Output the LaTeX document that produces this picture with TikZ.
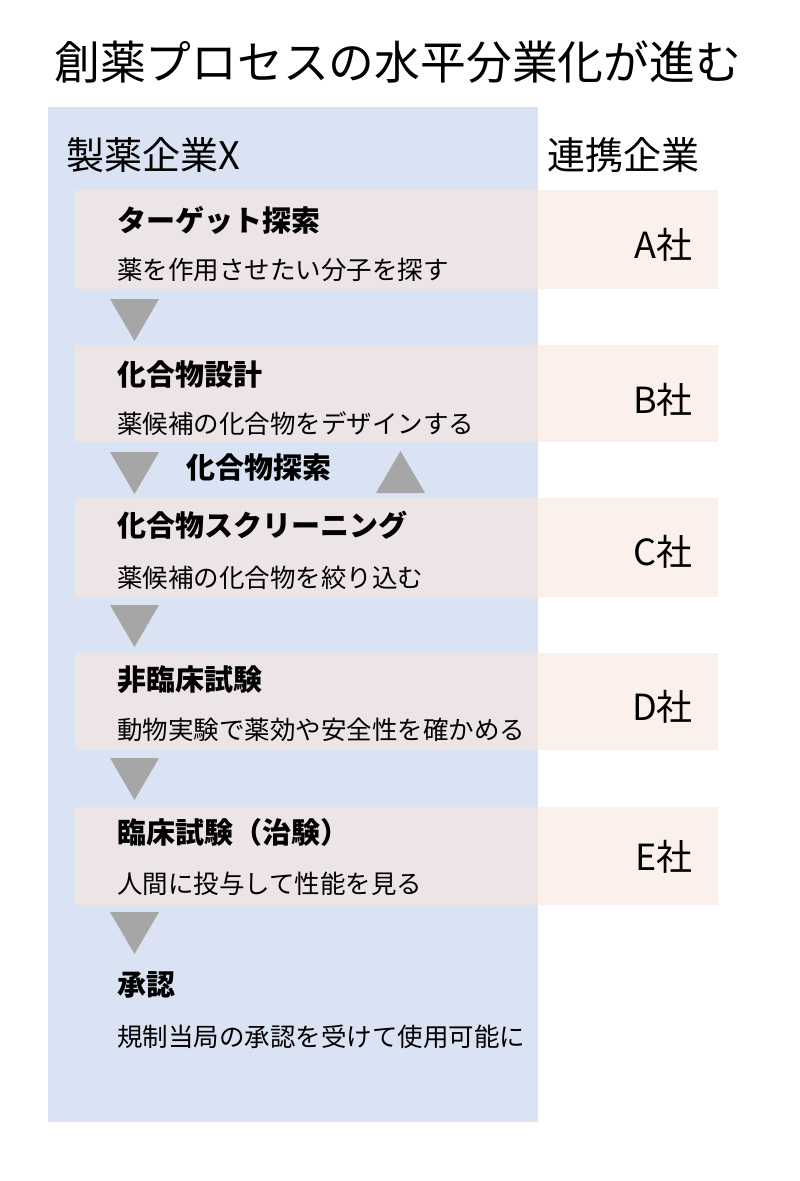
\documentclass[tikz,border=0pt]{standalone}
\usepackage{fontspec}
\setmainfont{Noto Sans CJK JP}
\usepackage{xcolor}
\usetikzlibrary{positioning}

\definecolor{panelblue}{HTML}{DAE3F3}
\definecolor{rowpink}{HTML}{EDE4E6}
\definecolor{rowpeach}{HTML}{FBF1EA}
\definecolor{trigray}{HTML}{A6A6A6}

\tikzset{
  stephead/.style={anchor=west, inner sep=0pt, font=\fontsize{29}{29}\selectfont\bfseries},
  stepnote/.style={anchor=west, inner sep=0pt, font=\fontsize{25.5}{25.5}\selectfont},
  partner/.style={anchor=east, inner sep=0pt, font=\fontsize{36}{36}\selectfont},
  colhead/.style={anchor=west, inner sep=0pt, font=\fontsize{38}{38}\selectfont},
}

\begin{document}
\begin{tikzpicture}[x=1pt, y=-1pt]
        \useasboundingbox (0,0) rectangle (800,1181);
        \fill[white] (0,0) rectangle (800,1181);

        % title
        \node[anchor=west, inner sep=0pt, font=\fontsize{45.8}{45.8}\selectfont] (title) at (54,62) {創薬プロセスの水平分業化が進む};

        % company X panel
        \fill[panelblue] (48,107) rectangle (538,1122);
        \node[colhead] (firmX) at (66,155) {製薬企業X};
        \node[colhead] (partners) at (547,155) {連携企業};

        % rows shared with partners
        \foreach \top/\bot in {190/289, 345/442, 498/597, 653/750, 807/905} {
          \fill[rowpink] (75,\top) rectangle (538,\bot);
          \fill[rowpeach] (538,\top) rectangle (718,\bot);
        }

        % steps
        \node[stephead] (target) at (117,220) {ターゲット探索};
        \node[stepnote] (targetnote) at (117,270) {薬を作用させたい分子を探す};
        \node[stephead] (design) at (117,375) {化合物設計};
        \node[stepnote] (designnote) at (117,424) {薬候補の化合物をデザインする};
        \node[stephead] (explore) at (186,468) {化合物探索};
        \node[stephead] (screen) at (117,525) {化合物スクリーニング};
        \node[stepnote] (screennote) at (117,578) {薬候補の化合物を絞り込む};
        \node[stephead] (preclin) at (117,680) {非臨床試験};
        \node[stepnote] (preclinnote) at (117,730) {動物実験で薬効や安全性を確かめる};
        \node[stephead] (clinical) at (117,832) {臨床試験（治験）};
        \node[stepnote] (clinicalnote) at (117,884) {人間に投与して性能を見る};
        \node[stephead] (approval) at (117,985) {承認};
        \node[stepnote] (approvalnote) at (117,1037) {規制当局の承認を受けて使用可能に};

        % partner companies
        \node[partner] (firmA) at (693,245) {A社};
        \node[partner] (firmB) at (693,400) {B社};
        \node[partner] (firmC) at (693,552) {C社};
        \node[partner] (firmD) at (693,707) {D社};
        \node[partner] (firmE) at (693,857) {E社};

        % arrows between steps
        \foreach \ty in {299, 452, 605, 758, 912} {
          \fill[trigray] (110,\ty) -- (159,\ty) -- (134.5,\ty+42) -- cycle;
        }
        \fill[trigray] (376,493) -- (425,493) -- (400.5,451) -- cycle;

    \end{tikzpicture}
\end{document}
